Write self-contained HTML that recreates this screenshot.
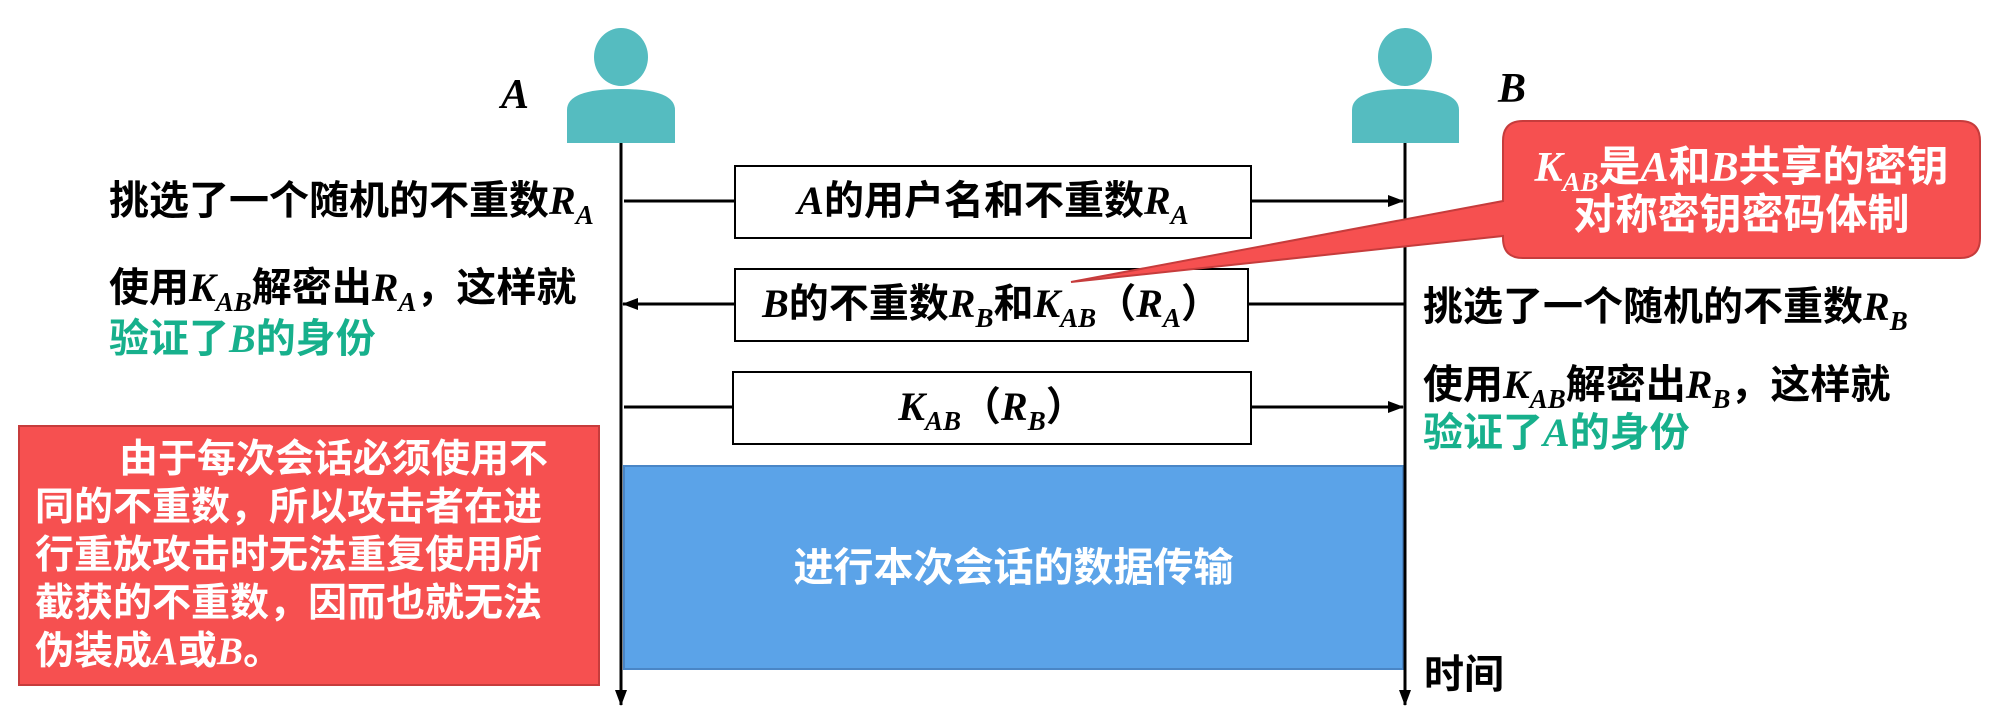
<!DOCTYPE html>
<html><head><meta charset="utf-8"><style>
body{margin:0;width:2014px;height:718px;background:#fff;position:relative;overflow:hidden;font-family:"Liberation Sans","Noto Sans CJK SC",sans-serif;font-weight:bold;}
.t{position:absolute;white-space:nowrap;font-size:40px;line-height:44px;color:#000;}
i{font-family:"Liberation Serif",serif;font-style:italic;font-weight:bold;}
sub{font-family:"Liberation Serif",serif;font-style:italic;font-size:27px;vertical-align:-10px;line-height:0;}
.g{color:#17b08c;}
.w{color:#fff;}
</style></head><body>
<svg width="2014" height="718" style="position:absolute;left:0;top:0">
<defs><marker id="ar" markerWidth="16" markerHeight="12" refX="15" refY="6" orient="auto" markerUnits="userSpaceOnUse"><path d="M0,0 L16,6 L0,12 Z" fill="#000"/></marker></defs>
<ellipse cx="621" cy="57" rx="27" ry="29" fill="#55bcc0"/>
<path d="M567,143 V110 Q567,89 621,89 Q675,89 675,110 V143 Z" fill="#55bcc0"/>
<ellipse cx="1405" cy="57" rx="27" ry="29" fill="#55bcc0"/>
<path d="M1352,143 V110 Q1352,89 1405,89 Q1459,89 1459,110 V143 Z" fill="#55bcc0"/>
<rect x="624" y="466" width="779" height="203" fill="#5ba3e8" stroke="#4a86c6" stroke-width="2"/>
<line x1="621" y1="143" x2="621" y2="705" stroke="#000" stroke-width="3" marker-end="url(#ar)"/>
<line x1="1405" y1="143" x2="1405" y2="705" stroke="#000" stroke-width="3" marker-end="url(#ar)"/>
<rect x="735" y="166" width="516" height="72" fill="#fff" stroke="#000" stroke-width="2"/>
<rect x="735" y="269" width="513" height="72" fill="#fff" stroke="#000" stroke-width="2"/>
<rect x="733" y="372" width="518" height="72" fill="#fff" stroke="#000" stroke-width="2"/>
<line x1="624" y1="201" x2="735" y2="201" stroke="#000" stroke-width="3"/>
<line x1="1251" y1="201" x2="1403" y2="201" stroke="#000" stroke-width="3" marker-end="url(#ar)"/>
<line x1="1405" y1="304" x2="1248" y2="304" stroke="#000" stroke-width="3"/>
<line x1="735" y1="304" x2="623" y2="304" stroke="#000" stroke-width="3" marker-end="url(#ar)"/>
<line x1="624" y1="407" x2="733" y2="407" stroke="#000" stroke-width="3"/>
<line x1="1251" y1="407" x2="1403" y2="407" stroke="#000" stroke-width="3" marker-end="url(#ar)"/>
<rect x="19" y="426" width="580" height="259" fill="#f65050" stroke="#c63c3c" stroke-width="2"/>
<path d="M1523,121 H1960 Q1980,121 1980,141 V238 Q1980,258 1960,258 H1523 Q1503,258 1503,238 V236 L1071,282 L1503,201 V141 Q1503,121 1523,121 Z" fill="#f65050" stroke="#c63c3c" stroke-width="2"/>
</svg>
<div class="t" style="left:501px;top:72px;font-size:42px"><i>A</i></div>
<div class="t" style="left:1498px;top:66px;font-size:42px"><i>B</i></div>

<div class="t" style="left:109px;top:179px">挑选了一个随机的不重数<i>R</i><sub>A</sub></div>
<div class="t" style="left:735px;width:516px;text-align:center;top:179px"><i>A</i>的用户名和不重数<i>R</i><sub>A</sub></div>

<div class="t" style="left:109px;top:266px">使用<i>K</i><sub>AB</sub>解密出<i>R</i><sub>A</sub>，这样就</div>
<div class="t g" style="left:109px;top:317px">验证了<i>B</i>的身份</div>
<div class="t" style="left:735px;width:513px;text-align:center;top:282px"><i>B</i>的不重数<i>R</i><sub>B</sub>和<i>K</i><sub>AB</sub>（<i>R</i><sub>A</sub>）</div>
<div class="t" style="left:1423px;top:285px">挑选了一个随机的不重数<i>R</i><sub>B</sub></div>

<div class="t" style="left:733px;width:518px;text-align:center;top:385px"><i>K</i><sub>AB</sub>（<i>R</i><sub>B</sub>）</div>
<div class="t" style="left:1423px;top:363px">使用<i>K</i><sub>AB</sub>解密出<i>R</i><sub>B</sub>，这样就</div>
<div class="t g" style="left:1423px;top:411px">验证了<i>A</i>的身份</div>

<div class="t w" style="left:624px;width:779px;text-align:center;top:546px">进行本次会话的数据传输</div>
<div class="t" style="left:1424px;top:653px">时间</div>

<div class="t w" style="left:35px;top:436px;font-size:39px;line-height:48px;width:560px;white-space:normal">
<div style="padding-left:84px">由于每次会话必须使用不</div>
<div>同的不重数，所以攻击者在进</div>
<div>行重放攻击时无法重复使用所</div>
<div>截获的不重数，因而也就无法</div>
<div>伪装成<i>A</i>或<i>B</i>。</div>
</div>

<div class="t w" style="left:1503px;width:477px;text-align:center;top:145px;font-size:42px"><i>K</i><sub>AB</sub>是<i>A</i>和<i>B</i>共享的密钥</div>
<div class="t w" style="left:1503px;width:477px;text-align:center;top:193px;font-size:42px">对称密钥密码体制</div>
</body></html>
